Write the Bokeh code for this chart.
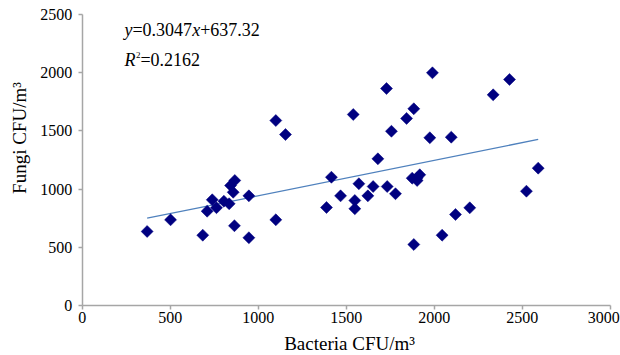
import math
from bokeh.plotting import figure
from bokeh.models import Range1d, Label, FixedTicker
from bokeh.embed import file_html
from bokeh.resources import INLINE

# ---- data ----
bacteria = [369, 502, 685, 710, 739, 763, 805, 835, 843, 867, 858, 865, 947, 947,
            1100, 1100, 1155, 1388, 1416, 1468, 1540, 1549, 1549, 1572, 1623, 1653,
            1680, 1729, 1733, 1757, 1780, 1843, 1884, 1875, 1903, 1918, 1903, 1884,
            1975, 1990, 2045, 2097, 2121, 2202, 2335, 2428, 2524, 2591]
fungi = [636, 736, 604, 810, 908, 840, 896, 874, 1031, 1074, 973, 685, 942, 582,
         1589, 736, 1469, 842, 1102, 942, 1641, 902, 831, 1046, 942, 1022,
         1260, 1864, 1022, 1497, 960, 1607, 1690, 1094, 1097, 1123, 1074, 524,
         1441, 1999, 604, 1446, 782, 839, 1810, 1942, 982, 1180]
slope = 0.3047
intercept = 637.32
r_squared = 0.2162
x_ticks = [0, 500, 1000, 1500, 2000, 2500, 3000]
y_ticks = [0, 500, 1000, 1500, 2000, 2500]
x_title = "Bacteria CFU/m³"
y_title = "Fungi CFU/m³"

FONT = "Liberation Serif"
X_MAX = x_ticks[-1]
Y_MAX = y_ticks[-1]

# frame covers the whole canvas; axes are drawn at the data origin
p = figure(width=620, height=355, output_backend="svg", toolbar_location=None,
           x_range=Range1d(-464.2, 3058.5), y_range=Range1d(-429.6, 2620.3),
           min_border_left=0, min_border_right=0, min_border_top=0,
           min_border_bottom=0)
p.background_fill_color = "white"
p.border_fill_color = "white"
p.outline_line_color = None
p.grid.visible = False

for ax in (p.xaxis[0], p.yaxis[0]):
    ax.fixed_location = 0
    ax.axis_line_color = "#a6a6a6"
    ax.axis_line_width = 1.5
    ax.major_tick_line_color = "#a6a6a6"
    ax.major_tick_line_width = 1.5
    ax.major_tick_in = 0
    ax.major_tick_out = 4
    ax.minor_tick_line_color = None
    ax.major_label_text_font = FONT
    ax.major_label_text_font_size = "16px"
    ax.major_label_text_color = "black"

p.xaxis.bounds = (0, X_MAX)
p.yaxis.bounds = (0, Y_MAX)
p.xaxis.ticker = FixedTicker(ticks=x_ticks)
p.yaxis.ticker = FixedTicker(ticks=y_ticks)
p.xaxis.major_label_overrides = {X_MAX: ""}
p.xaxis.major_label_standoff = 3
p.yaxis.major_label_standoff = 6

# trend line
x0, x1 = min(bacteria), max(bacteria)
p.line([x0, x1], [slope * x0 + intercept, slope * x1 + intercept],
       line_color="#4f81bd", line_width=1.3)

# points
p.scatter(bacteria, fungi, marker="square", size=8.5, angle=math.pi / 4,
          fill_color="#000080", line_color="#000080", line_width=0.5)


def lab(text, x, y, xo=0, yo=0, size="18px", style="normal", align="left",
        baseline="alphabetic", angle=0.0):
    p.add_layout(Label(x=x, y=y, x_offset=xo, y_offset=yo, text=text,
                       text_font=FONT, text_font_size=size,
                       text_font_style=style, text_align=align,
                       text_baseline=baseline, angle=angle,
                       text_color="black"))


# equation and R squared
lab("y", 240, 2371, 0, style="italic")
lab("=%.4f" % slope, 240, 2371, 8)
lab("x", 240, 2371, 67.7, style="italic")
lab("+%.2f" % intercept, 240, 2371, 75.7)
lab("R", 240, 2109, 0, style="italic")
lab("2", 240, 2109, 11.5, 5, size="9px")
lab("=%.4f" % r_squared, 240, 2109, 16)

# last x tick label, kept inside the canvas
lab(str(X_MAX), X_MAX, 0, 9.5, -7, size="16px", baseline="top", align="right")

# axis titles
lab(x_title, 1519, -327, size="19px", align="center")
lab(y_title, -359, 1439, size="19px", align="center", angle=math.pi / 2)

open("out.html", "w").write(file_html(p, INLINE))
